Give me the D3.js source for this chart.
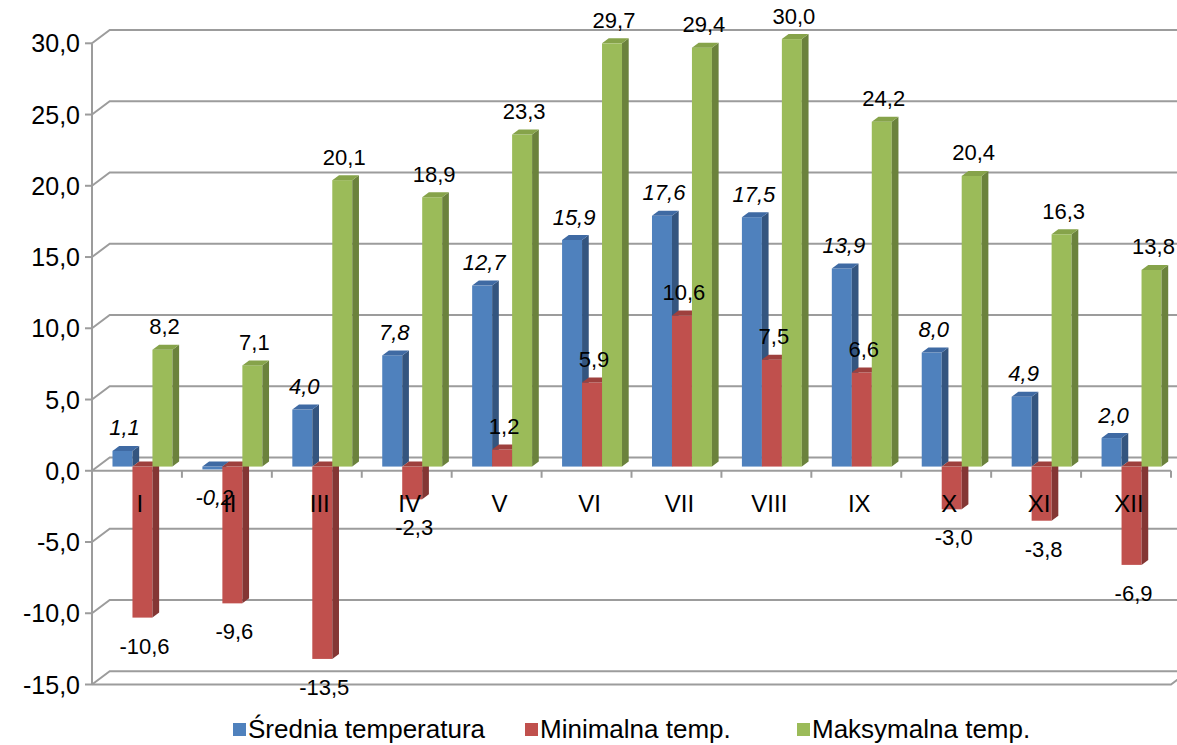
<!DOCTYPE html>
<html lang="pl">
<head>
<meta charset="UTF-8">
<title>Temperatura</title>
<script src="https://d3js.org/d3.v7.min.js"></script>
<style>
    body { margin: 0; background: #fff; }
    svg { display: block; font-family: 'Liberation Sans', Arial, sans-serif; }
    .grid { stroke: #9c9c9c; stroke-width: 2; fill: none; }
    .ylab { font-size: 25px; fill: #000; }
    .xlab { font-size: 24px; fill: #000; }
    .dlab { font-size: 22px; fill: #000; }
    .leg { font-size: 26px; fill: #000; }
</style>
</head>
<body>
<div id="chart"></div>
<script>
// dane
const months = ["I", "II", "III", "IV", "V", "VI", "VII", "VIII", "IX", "X", "XI", "XII"];
const srednia = [1.1, -0.2, 4.0, 7.8, 12.7, 15.9, 17.6, 17.5, 13.9, 8.0, 4.9, 2.0];
const minimalna = [-10.6, -9.6, -13.5, -2.3, 1.2, 5.9, 10.6, 7.5, 6.6, -3.0, -3.8, -6.9];
const maksymalna = [8.2, 7.1, 20.1, 18.9, 23.3, 29.7, 29.4, 30.0, 24.2, 20.4, 16.3, 13.8];
const seriesNames = ["Średnia temperatura", "Minimalna temp.", "Maksymalna temp."];
const yTicks = [-15, -10, -5, 0, 5, 10, 15, 20, 25, 30];

const W = 1177, H = 745;
const plotL = 92, plotR = 1171, plotT = 43.3, plotB = 684.5;
const wallDx = 17.7, wallDy = -13.3;   // glebokosc sciany
const barDx = 6.7, barDy = -5;         // glebokosc slupka
const shiftX = 5.5, shiftY = -4.2;     // przesuniecie slupkow w glab

const colors = [
    { front: "#4F81BD", side: "#34557f", top: "#3f6aa3" },
    { front: "#C0504D", side: "#843634", top: "#9e403d" },
    { front: "#9BBB59", side: "#6b823c", top: "#86a34a" }
];

const loc = d3.formatLocale({ decimal: ",", thousands: " ", grouping: [3], currency: ["", ""], minus: "-" });
const fmt = loc.format(".1f");

const svg = d3.select("#chart").append("svg")
    .attr("width", W).attr("height", H);

const y = d3.scaleLinear().domain([-15, 30]).range([plotB, plotT]);
const x = d3.scaleBand().domain(months).range([plotL, plotR]).paddingInner(0).paddingOuter(0);
const bw = x.bandwidth() * 2 / 9;
const gap = (x.bandwidth() - 3 * bw) / 2;

// siatka tylna + sciana boczna
const g = svg.append("g");
yTicks.forEach(t => {
    g.append("path").attr("class", "grid")
        .attr("d", `M${plotL},${y(t)}L${plotL + wallDx},${y(t) + wallDy}L${W + 20},${y(t) + wallDy}`);
    g.append("line").attr("class", "grid")
        .attr("x1", plotL - 7).attr("x2", plotL).attr("y1", y(t)).attr("y2", y(t));
});
g.append("line").attr("class", "grid")
    .attr("x1", plotL).attr("x2", plotL).attr("y1", y(30)).attr("y2", y(-15));
// podloga dolna
g.append("path").attr("class", "grid")
    .attr("d", `M${plotL},${y(-15)}L${plotR},${y(-15)}L${plotR + wallDx},${y(-15) + wallDy}`);

// os X na zerze
g.append("line").attr("class", "grid")
    .attr("x1", plotL).attr("x2", plotR).attr("y1", y(0)).attr("y2", y(0));
months.concat(["end"]).forEach((m, i) => {
    const xx = i < months.length ? x(m) : plotR;
    g.append("line").attr("class", "grid")
        .attr("x1", xx).attr("x2", xx).attr("y1", y(0)).attr("y2", y(0) + 7);
});

// etykiety osi Y
svg.append("g").selectAll("text").data(yTicks).join("text")
    .attr("class", "ylab")
    .attr("x", 80).attr("y", d => y(d) + 9)
    .attr("text-anchor", "end")
    .text(d => fmt(d));

// slupki 3D
const data = [srednia, minimalna, maksymalna];
const bars = svg.append("g");
months.forEach((m, ci) => {
    data.forEach((vals, si) => {
        const v = vals[ci];
        const c = colors[si];
        const x0 = x(m) + gap + si * bw + shiftX;
        const yTop = (v >= 0 ? y(v) : y(0)) + shiftY;
        const yBot = (v >= 0 ? y(0) : y(v)) + shiftY;
        const gb = bars.append("g");
        gb.append("rect")
            .attr("x", x0).attr("y", yTop)
            .attr("width", bw).attr("height", Math.max(yBot - yTop, 0.8))
            .attr("fill", c.front);
        gb.append("path")
            .attr("d", `M${x0 + bw},${yTop}L${x0 + bw + barDx},${yTop + barDy}L${x0 + bw + barDx},${yBot + barDy}L${x0 + bw},${yBot}Z`)
            .attr("fill", c.side);
        gb.append("path")
            .attr("d", `M${x0},${yTop}L${x0 + barDx},${yTop + barDy}L${x0 + bw + barDx},${yTop + barDy}L${x0 + bw},${yTop}Z`)
            .attr("fill", c.top);
    });
});

// etykiety kategorii
svg.append("g").selectAll("text").data(months).join("text")
    .attr("class", "xlab")
    .attr("x", d => x(d) + x.bandwidth() / 2 + 3)
    .attr("y", y(0) + 41)
    .attr("text-anchor", "middle")
    .text(d => d);

// etykiety danych
const labels = svg.append("g");
months.forEach((m, ci) => {
    data.forEach((vals, si) => {
        const v = vals[ci];
        const x0 = x(m) + gap + si * bw + shiftX;
        const yy = v >= 0 ? y(v) + shiftY - 15.5 : y(v) + shiftY + 36;
        labels.append("text")
            .attr("class", "dlab")
            .attr("x", x0 + bw / 2 + 2)
            .attr("y", yy)
            .attr("text-anchor", "middle")
            .style("font-style", si === 0 ? "italic" : "normal")
            .text(fmt(v));
    });
});

// legenda
const legX = [233, 525, 797];
const leg = svg.append("g");
seriesNames.forEach((n, i) => {
    leg.append("rect").attr("x", legX[i]).attr("y", 723)
        .attr("width", 13).attr("height", 13).attr("fill", colors[i].front);
    leg.append("text").attr("class", "leg")
        .attr("x", legX[i] + 15).attr("y", 738)
        .text(n);
});
</script>
</body>
</html>
